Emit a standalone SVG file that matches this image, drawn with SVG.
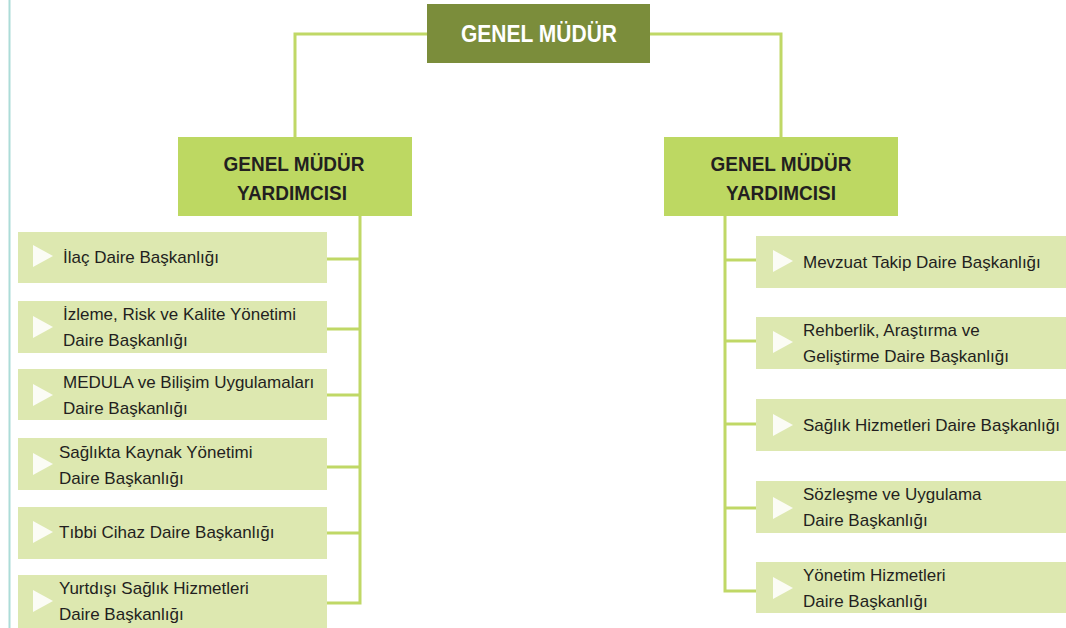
<svg xmlns="http://www.w3.org/2000/svg" width="1066" height="628" viewBox="0 0 1066 628">
  <style>
    .head { fill: #7b8d3b; }
    .deputy { fill: #bdd862; }
    .unit { fill: #dde8b0; }
    .tri { fill: #fbfcf5; }
    .link { fill: none; stroke: #c0d866; stroke-width: 3; }
    .t-head { font-family: "Liberation Sans", Arial, sans-serif; font-weight: bold; font-size: 24px; fill: #ffffff; text-anchor: middle; }
    .t-deputy { font-family: "Liberation Sans", Arial, sans-serif; font-weight: bold; font-size: 21px; fill: #231f20; text-anchor: middle; }
    .t-unit { font-family: "Liberation Sans", Arial, sans-serif; font-size: 17px; fill: #231f20; }
  </style>

  <!-- page margin rule -->
  <line x1="9.5" y1="0" x2="9.5" y2="628" stroke="#acdcd8" stroke-width="2"/>

  <g id="connectors">
    <!-- head to deputies -->
    <polyline class="link" points="295,137 295,34 427,34"/>
    <polyline class="link" points="650,34 781,34 781,137"/>
    <!-- left deputy spine and branches -->
    <polyline class="link" points="360,216 360,603 327,603"/>
    <line class="link" x1="327" y1="259" x2="360" y2="259"/>
    <line class="link" x1="327" y1="329" x2="360" y2="329"/>
    <line class="link" x1="327" y1="395" x2="360" y2="395"/>
    <line class="link" x1="327" y1="467" x2="360" y2="467"/>
    <line class="link" x1="327" y1="533" x2="360" y2="533"/>
    <!-- right deputy spine and branches -->
    <polyline class="link" points="725,216 725,591 756,591"/>
    <line class="link" x1="725" y1="260" x2="756" y2="260"/>
    <line class="link" x1="725" y1="341" x2="756" y2="341"/>
    <line class="link" x1="725" y1="424" x2="756" y2="424"/>
    <line class="link" x1="725" y1="508" x2="756" y2="508"/>
  </g>

  <g id="genel-mudur">
    <rect class="head" x="427" y="4" width="223" height="59"/>
    <text class="t-head" x="539" y="42" textLength="156" lengthAdjust="spacingAndGlyphs">GENEL MÜDÜR</text>
  </g>

  <g id="gmy-left">
    <rect class="deputy" x="178" y="137" width="234" height="79"/>
    <text class="t-deputy" x="294" y="171" textLength="141" lengthAdjust="spacingAndGlyphs">GENEL MÜDÜR</text>
    <text class="t-deputy" x="292" y="200" textLength="110" lengthAdjust="spacingAndGlyphs">YARDIMCISI</text>
  </g>

  <g id="gmy-right">
    <rect class="deputy" x="664" y="137" width="234" height="79"/>
    <text class="t-deputy" x="781" y="171" textLength="141" lengthAdjust="spacingAndGlyphs">GENEL MÜDÜR</text>
    <text class="t-deputy" x="781" y="200" textLength="110" lengthAdjust="spacingAndGlyphs">YARDIMCISI</text>
  </g>

  <!-- left units -->
  <g id="ilac">
    <rect class="unit" x="18" y="232" width="309" height="51"/>
    <polygon class="tri" points="33,245 53,256 33,267"/>
    <text class="t-unit" x="63" y="263">İlaç Daire Başkanlığı</text>
  </g>
  <g id="izleme">
    <rect class="unit" x="18" y="301" width="309" height="52"/>
    <polygon class="tri" points="33,316 53,327 33,338"/>
    <text class="t-unit" x="63" y="320">İzleme, Risk ve Kalite Yönetimi</text>
    <text class="t-unit" x="63" y="346">Daire Başkanlığı</text>
  </g>
  <g id="medula">
    <rect class="unit" x="18" y="369" width="309" height="51"/>
    <polygon class="tri" points="33,384 53,395 33,406"/>
    <text class="t-unit" x="63" y="388">MEDULA ve Bilişim Uygulamaları</text>
    <text class="t-unit" x="63" y="414">Daire Başkanlığı</text>
  </g>
  <g id="kaynak">
    <rect class="unit" x="18" y="438" width="309" height="52"/>
    <polygon class="tri" points="33,453 53,464 33,475"/>
    <text class="t-unit" x="59" y="458">Sağlıkta Kaynak Yönetimi</text>
    <text class="t-unit" x="59" y="484">Daire Başkanlığı</text>
  </g>
  <g id="tibbi-cihaz">
    <rect class="unit" x="18" y="507" width="309" height="52"/>
    <polygon class="tri" points="33,521 53,532 33,543"/>
    <text class="t-unit" x="59" y="538">Tıbbi Cihaz Daire Başkanlığı</text>
  </g>
  <g id="yurtdisi">
    <rect class="unit" x="18" y="575" width="309" height="53"/>
    <polygon class="tri" points="33,590 53,601 33,612"/>
    <text class="t-unit" x="59" y="594">Yurtdışı Sağlık Hizmetleri</text>
    <text class="t-unit" x="59" y="620">Daire Başkanlığı</text>
  </g>

  <!-- right units -->
  <g id="mevzuat">
    <rect class="unit" x="756" y="236" width="310" height="52"/>
    <polygon class="tri" points="773,250 793,261 773,272"/>
    <text class="t-unit" x="803" y="268">Mevzuat Takip Daire Başkanlığı</text>
  </g>
  <g id="rehberlik">
    <rect class="unit" x="756" y="317" width="310" height="52"/>
    <polygon class="tri" points="773,331 793,342 773,353"/>
    <text class="t-unit" x="803" y="336">Rehberlik, Araştırma ve</text>
    <text class="t-unit" x="803" y="362">Geliştirme Daire Başkanlığı</text>
  </g>
  <g id="saglik-hizmetleri">
    <rect class="unit" x="756" y="399" width="310" height="52"/>
    <polygon class="tri" points="773,414 793,425 773,436"/>
    <text class="t-unit" x="803" y="431">Sağlık Hizmetleri Daire Başkanlığı</text>
  </g>
  <g id="sozlesme">
    <rect class="unit" x="756" y="481" width="310" height="52"/>
    <polygon class="tri" points="773,497 793,508 773,519"/>
    <text class="t-unit" x="803" y="500">Sözleşme ve Uygulama</text>
    <text class="t-unit" x="803" y="526">Daire Başkanlığı</text>
  </g>
  <g id="yonetim">
    <rect class="unit" x="756" y="562" width="310" height="51"/>
    <polygon class="tri" points="773,577 793,588 773,599"/>
    <text class="t-unit" x="803" y="581">Yönetim Hizmetleri</text>
    <text class="t-unit" x="803" y="607">Daire Başkanlığı</text>
  </g>
</svg>
